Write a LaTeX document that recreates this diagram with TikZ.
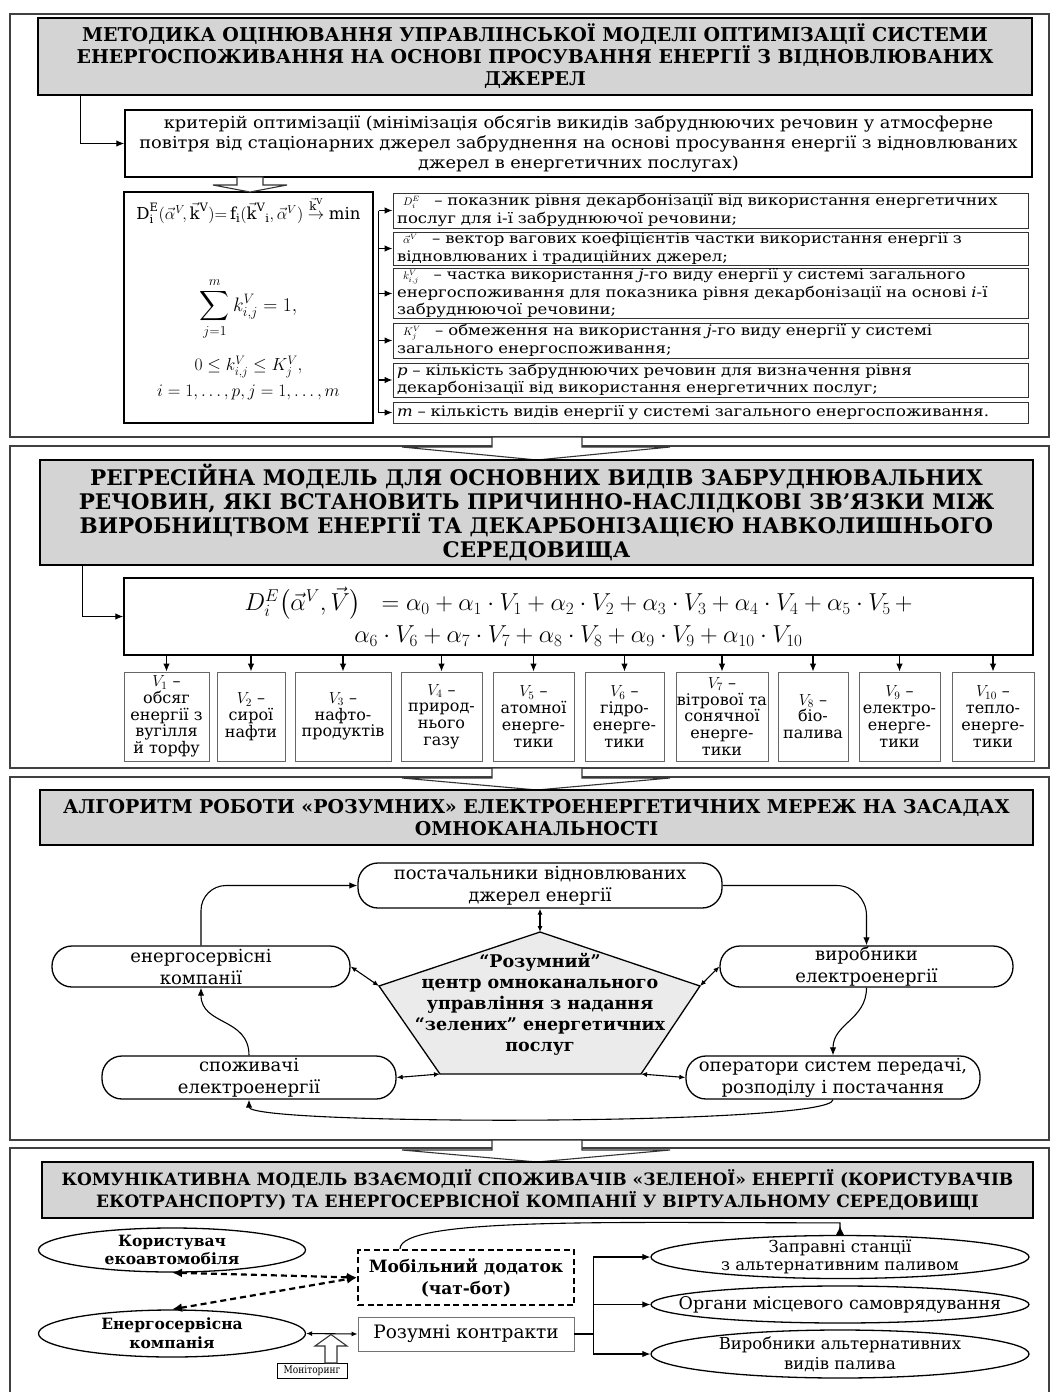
\RequirePackage{fix-cm}
\documentclass[tikz,border=0pt]{standalone}
\usepackage{amsmath}
\usepackage{fontspec}
\setmainfont{DejaVu Serif}
\newfontfamily\condserif[FakeStretch=0.86]{DejaVu Serif}
\newfontfamily\wideserif[FakeStretch=1.14]{DejaVu Serif}
\newfontfamily\critserif[FakeStretch=1.08]{DejaVu Serif}
\usetikzlibrary{arrows.meta,calc,shapes.geometric}

\tikzset{
  frame/.style={draw=black!75, line width=1.5pt},
  header/.style={draw=black, line width=2.4pt, fill=black!17, align=center, inner sep=0pt},
  box/.style={draw=black, line width=1.4pt, fill=white, inner sep=0pt},
  descbox/.style={draw=black!80, line width=1pt, fill=white, inner xsep=4pt, inner ysep=0pt,
    text width=627pt, minimum width=635pt, align=left, font=\wideserif\fontsize{14.5}{17.5}\selectfont},
  vbox/.style={draw=black!60, line width=0.9pt, fill=white, inner sep=0pt, align=center,
    minimum height=89pt, font=\fontsize{16}{16.7}\selectfont},
  pill/.style={draw=black, line width=1.3pt, rounded corners=20pt, fill=white, align=center,
    inner sep=0pt, font=\fontsize{18}{22}\selectfont},
  oval/.style={ellipse, draw=black, line width=1.3pt, fill=white, align=center,
    inner xsep=-30pt, inner ysep=-5pt},
  conn/.style={draw=black, line width=1.1pt},
  hollow/.style={draw=black!80, line width=1.1pt, fill=white, line join=miter},
  penta/.style={draw=black, line width=1.3pt, fill=black!8, line join=miter},
  dasharr/.style={draw=black, line width=2.2pt, dash pattern=on 6pt off 4pt,
    {Latex[length=10pt,width=9pt]}-{Latex[length=10pt,width=9pt]}},
  smallarr/.style={{Latex[length=6pt,width=5pt]}-{Latex[length=6pt,width=5pt]}},
}

\begin{document}
\begin{tikzpicture}[x=1pt,y=-1pt, >={Latex[length=8pt,width=6.5pt]}]
\useasboundingbox (0,0) rectangle (1051,1392);
\fill[white] (0,0) rectangle (1051,1392);

% ---------- section frames ----------
\draw[frame] (10,14) rectangle (1049,437);
\draw[frame] (10,446) rectangle (1049,768);
\draw[frame] (10,777) rectangle (1049,1140);
\draw[frame] (10,1148) rectangle (1049,1400);

% ---------- section 1 ----------
\node[header, minimum width=994pt, minimum height=77pt, font=\fontsize{19}{22}\selectfont\bfseries]
  (h1) at (535,56.5)
  {МЕТОДИКА ОЦІНЮВАННЯ УПРАВЛІНСЬКОЇ МОДЕЛІ ОПТИМІЗАЦІЇ СИСТЕМИ\\
   ЕНЕРГОСПОЖИВАННЯ НА ОСНОВІ ПРОСУВАННЯ ЕНЕРГІЇ З ВІДНОВЛЮВАНИХ\\
   ДЖЕРЕЛ};

\node[box, minimum width=907pt, minimum height=67pt, text width=901pt, align=center,
  font=\critserif\fontsize{16.5}{20}\selectfont] (crit) at (578.5,143.5)
  {критерій оптимізації (мінімізація обсягів викидів забруднюючих речовин у атмосферне\\
   повітря від стаціонарних джерел забруднення на основі просування енергії з відновлюваних\\
   джерел в енергетичних послугах)};

\draw[conn,->] ([xshift=44pt]h1.south west) |- (crit.west);

% formula box
\node[box, minimum width=249pt, minimum height=231pt] (fbox) at (248.5,307.5) {};
\node[inner sep=0pt, font=\fontsize{16.5}{18}\selectfont] (fA) at (248.5,210)
  {$\mathrm{D^{E}_{i}}(\vec{\alpha}^{V}\!,\vec{\mathrm{k}}^{\mathrm{V}})
    {=}\, \mathrm{f_i}(\vec{\mathrm{k}}^{\mathrm{V}}{}_{\mathrm{i}},\vec{\alpha}^{V})
    \overset{\vec{\mathrm{k}}^{\mathrm{V}}}{\rightarrow} \min$};
\node[inner sep=0pt, font=\fontsize{19.5}{22}\selectfont] (fB) at (248.5,309)
  {$\displaystyle\sum_{j=1}^{m} k_{i,j}^{V} = 1,$};
\node[inner sep=0pt, font=\fontsize{17.5}{20}\selectfont] (fC) at (248.5,367)
  {$0 \le k_{i,j}^{V} \le K_{j}^{V},$};
\node[inner sep=0pt, font=\fontsize{17.5}{20}\selectfont] (fD) at (248.5,392)
  {$i = 1, \ldots, p, j = 1, \ldots, m$};

% small hollow arrow from the criterion to the formulas
\draw[hollow] (237,177) -- (237,185) -- (213,185) -- (250,192) -- (287,185) -- (263,185) -- (263,177) -- cycle;

% descriptions
\node[descbox, minimum height=35pt] (d1) at (710.5,210.5)
  {\mbox{\hspace{6pt}{\fontsize{11}{11}\selectfont$D^{E}_{i}$}\quad – показник рівня декарбонізації від використання енергетичних}\\
   \mbox{послуг для і-ї забруднюючої речовини;}};
\node[descbox, minimum height=33pt] (d2) at (710.5,248.5)
  {\mbox{\hspace{6pt}{\fontsize{11}{11}\selectfont$\vec{\alpha}^{V}$}\quad – вектор вагових коефіцієнтів частки використання енергії з}\\
   \mbox{відновлюваних і традиційних джерел;}};
\node[descbox, minimum height=49pt] (d3) at (710.5,293.5)
  {\mbox{\hspace{6pt}{\fontsize{11}{11}\selectfont$k^{V}_{i,j}$}\quad – частка використання \textit{j}-го виду енергії у системі загального}\\
   \mbox{енергоспоживання для показника рівня декарбонізації на основі \textit{i}-ї}\\
   \mbox{забруднюючої речовини;}};
\node[descbox, minimum height=35pt] (d4) at (710.5,340.5)
  {\mbox{\hspace{6pt}{\fontsize{11}{11}\selectfont$K^{V}_{j}$}\quad – обмеження на використання \textit{j}-го виду енергії у системі}\\
   \mbox{загального енергоспоживання;}};
\node[descbox, minimum height=34pt] (d5) at (710.5,380)
  {\mbox{\textit{p} – кількість забруднюючих речовин для визначення рівня}\\
   \mbox{декарбонізації від використання енергетичних послуг;}};
\node[descbox, minimum height=21pt] (d6) at (710.5,412.5)
  {\mbox{\textit{m} – кількість видів енергії у системі загального енергоспоживання.}};

\coordinate (spine) at ($(fbox.east)+(5,0)$);
\draw[conn] (spine |- d1.west) -- (spine |- d6.west);
\foreach \d in {d1,d2,d3,d4,d5,d6}
  \draw[conn,->] (spine |- \d.west) -- (\d.west);

% block arrow to section 2
\draw[hollow] (492,437) -- (492,447) -- (402,447) -- (537,460) -- (670,447) -- (582,447) -- (582,437) -- cycle;

% ---------- section 2 ----------
\node[header, minimum width=993pt, minimum height=105pt, font=\fontsize{21.5}{23.5}\selectfont\bfseries]
  (h2) at (536.5,512.5)
  {РЕГРЕСІЙНА МОДЕЛЬ ДЛЯ ОСНОВНИХ ВИДІВ ЗАБРУДНЮВАЛЬНИХ\\
   РЕЧОВИН, ЯКІ ВСТАНОВИТЬ ПРИЧИННО-НАСЛІДКОВІ ЗВ’ЯЗКИ МІЖ\\
   ВИРОБНИЦТВОМ ЕНЕРГІЇ ТА ДЕКАРБОНІЗАЦІЄЮ НАВКОЛИШНЬОГО\\
   СЕРЕДОВИЩА};

\node[box, minimum width=909pt, minimum height=77pt, align=center, font=\fontsize{24.5}{32}\selectfont]
  (rbox) at (578.5,616.5)
  {$D^{E}_{i}\bigl(\vec{\alpha}^{V},\vec{V}\bigr)\;\; = \alpha_0 + \alpha_1\cdot V_1 + \alpha_2\cdot V_2
    + \alpha_3\cdot V_3 + \alpha_4\cdot V_4 + \alpha_5\cdot V_5 \,+$\\
   $\alpha_6\cdot V_6 + \alpha_7\cdot V_7 + \alpha_8\cdot V_8 + \alpha_9\cdot V_9 + \alpha_{10}\cdot V_{10}$};

\draw[conn,->] ([xshift=44pt]h2.south west) |- (rbox.west);

\node[vbox, minimum width=85pt] (v1) at (166.5,716.5) {$V_1$ –\\обсяг\\енергії з\\вугілля\\й торфу};
\node[vbox, minimum width=68pt] (v2) at (251,716.5) {$V_2$ –\\сирої\\нафти};
\node[vbox, minimum width=96pt] (v3) at (343,716.5) {$V_3$ –\\нафто-\\продуктів};
\node[vbox, minimum width=81pt] (v4) at (441.5,716.5) {$V_4$ –\\природ-\\нього\\газу};
\node[vbox, minimum width=81pt] (v5) at (533.5,716.5) {$V_5$ –\\атомної\\енерге-\\тики};
\node[vbox, minimum width=79pt] (v6) at (624.5,716.5) {$V_6$ –\\гідро-\\енерге-\\тики};
\node[vbox, minimum width=92pt] (v7) at (722,716.5) {$V_7$ –\\вітрової та\\сонячної\\енерге-\\тики};
\node[vbox, minimum width=70pt] (v8) at (813,716.5) {$V_8$ –\\біо-\\палива};
\node[vbox, minimum width=81pt] (v9) at (899.5,716.5) {$V_9$ –\\електро-\\енерге-\\тики};
\node[vbox, minimum width=82pt] (v10) at (993,716.5) {$V_{10}$ –\\тепло-\\енерге-\\тики};

\foreach \v in {v1,v2,v3,v4,v5,v6,v7,v8,v9,v10}
  \draw[conn,->] (rbox.south -| \v.north) -- (\v.north);

% block arrow to section 3
\draw[hollow] (492,768) -- (492,778) -- (402,778) -- (537,790) -- (670,778) -- (582,778) -- (582,768) -- cycle;

% ---------- section 3 ----------
\node[header, minimum width=993pt, minimum height=55pt, font=\fontsize{19}{22}\selectfont\bfseries]
  (h3) at (536.5,817.5)
  {АЛГОРИТМ РОБОТИ «РОЗУМНИХ» ЕЛЕКТРОЕНЕРГЕТИЧНИХ МЕРЕЖ НА ЗАСАДАХ\\
   ОМНОКАНАЛЬНОСТІ};

\node[pill, minimum width=364pt, minimum height=45pt] (top) at (540,885.5)
  {постачальники відновлюваних\\джерел енергії};
\node[pill, minimum width=298pt, minimum height=41pt] (es) at (201,966.5)
  {енергосервісні\\компанії};
\node[pill, minimum width=293pt, minimum height=41pt] (vr) at (866.5,966.5)
  {виробники\\електроенергії};
\node[pill, minimum width=294pt, minimum height=43pt] (sp) at (249,1077.5)
  {споживачі\\електроенергії};
\node[pill, minimum width=294pt, minimum height=43pt] (op) at (833,1077.5)
  {оператори систем передачі,\\розподілу і постачання};

\coordinate (pT) at (540,932);
\coordinate (pL) at (379,986);
\coordinate (pR) at (700,986);
\coordinate (pBR) at (641,1074);
\coordinate (pBL) at (440,1074);
\draw[penta] (pT) -- (pR) -- (pBR) -- (pBL) -- (pL) -- cycle;
\node[align=center, inner sep=0pt, font=\fontsize{17.5}{21}\selectfont\bfseries] (pc) at (540,1004.5)
  {“Розумний”\\центр омноканального\\управління з надання\\“зелених” енергетичних\\послуг};

\draw[conn,->,rounded corners=25pt] (es.north) |- (top.west);
\draw[conn,->,rounded corners=30pt] (top.east) -| (vr.north);
\draw[conn,->] (vr.south) .. controls +(0,32) and +(0,-32) .. (op.north);
\draw[conn,->] (op.south) .. controls +(0,26) and +(0,26) .. (sp.south);
\draw[conn,->] (sp.north) .. controls +(0,-38) and +(0,38) .. (es.south);

\draw[conn,smallarr] (pT) -- (top.south);
\draw[conn,smallarr] (es.east) -- (pL);
\draw[conn,smallarr] (vr.west) -- (pR);
\draw[conn,smallarr] (sp.east) -- (pBL);
\draw[conn,smallarr] (op.west) -- (pBR);

% block arrow to section 4
\draw[hollow] (492,1140) -- (492,1150) -- (402,1150) -- (537,1162) -- (670,1150) -- (582,1150) -- (582,1140) -- cycle;

% ---------- section 4 ----------
\node[header, minimum width=991pt, minimum height=56pt, font=\fontsize{17}{22}\selectfont\bfseries]
  (h4) at (537.5,1190)
  {КОМУНІКАТИВНА МОДЕЛЬ ВЗАЄМОДІЇ СПОЖИВАЧІВ «ЗЕЛЕНОЇ» ЕНЕРГІЇ (КОРИСТУВАЧІВ\\
   ЕКОТРАНСПОРТУ) ТА ЕНЕРГОСЕРВІСНОЇ КОМПАНІЇ У ВІРТУАЛЬНОМУ СЕРЕДОВИЩІ};

\node[oval, minimum width=267pt, minimum height=44pt, font=\fontsize{15.5}{18}\selectfont\bfseries]
  (ku) at (172,1250) {Користувач\\екоавтомобіля};
\node[oval, minimum width=267pt, minimum height=47pt, font=\fontsize{15.5}{19}\selectfont\bfseries]
  (en) at (172,1333.5) {Енергосервісна\\компанія};
\node[draw=black, line width=2.2pt, dash pattern=on 6pt off 3.5pt, fill=white, inner sep=0pt,
  align=center, minimum width=216pt, minimum height=55pt, font=\fontsize{17}{22}\selectfont\bfseries]
  (mob) at (466,1277.5) {Мобільний додаток\\(чат-бот)};
\node[draw=black!55, line width=0.9pt, fill=white, inner sep=0pt, minimum width=216pt,
  minimum height=34pt, font=\fontsize{18.5}{20}\selectfont] (rk) at (466,1334) {Розумні контракти};
\node[draw=black, line width=1pt, fill=white, inner sep=0pt, minimum width=70pt,
  minimum height=15pt, font=\condserif\fontsize{10.5}{12}\selectfont] (mon) at (312,1370.5) {Моніторинг};

\node[oval, minimum width=378pt, minimum height=43pt, font=\fontsize{16.5}{18}\selectfont]
  (zap) at (840,1257) {Заправні станції\\з альтернативним паливом};
\node[oval, minimum width=378pt, minimum height=37pt, font=\fontsize{17.5}{18}\selectfont]
  (org) at (840,1304.5) {Органи місцевого самоврядування};
\node[oval, minimum width=378pt, minimum height=48pt, font=\fontsize{16.5}{20}\selectfont]
  (vyr) at (840,1354) {Виробники альтернативних\\видів палива};

\draw[dasharr] (ku.south) -- (mob.west);
\draw[dasharr] (en.north) -- (mob.west);
\draw[conn,smallarr] (en.east) -- (rk.west);
\draw[hollow] (325,1363) -- (325,1346) -- (315,1346) -- (331,1334.5) -- (347,1346) -- (337,1346) -- (337,1363) -- cycle;

\coordinate (jn) at ($(rk.east)+(19,0)$);
\draw[conn] (rk.east) -- (jn);
\draw[conn,->] (jn) |- (zap.west);
\draw[conn,->] (jn) |- (org.west);
\draw[conn,->] (jn) |- (vyr.west);

\draw[conn,-{Latex[reversed,length=9pt,width=8pt]}] ([xshift=-66pt]mob.north)
  .. controls +(0,-32) and +(-220,0) .. ($(zap.north)+(0,-12)$) -- (zap.north);

\end{tikzpicture}
\end{document}
